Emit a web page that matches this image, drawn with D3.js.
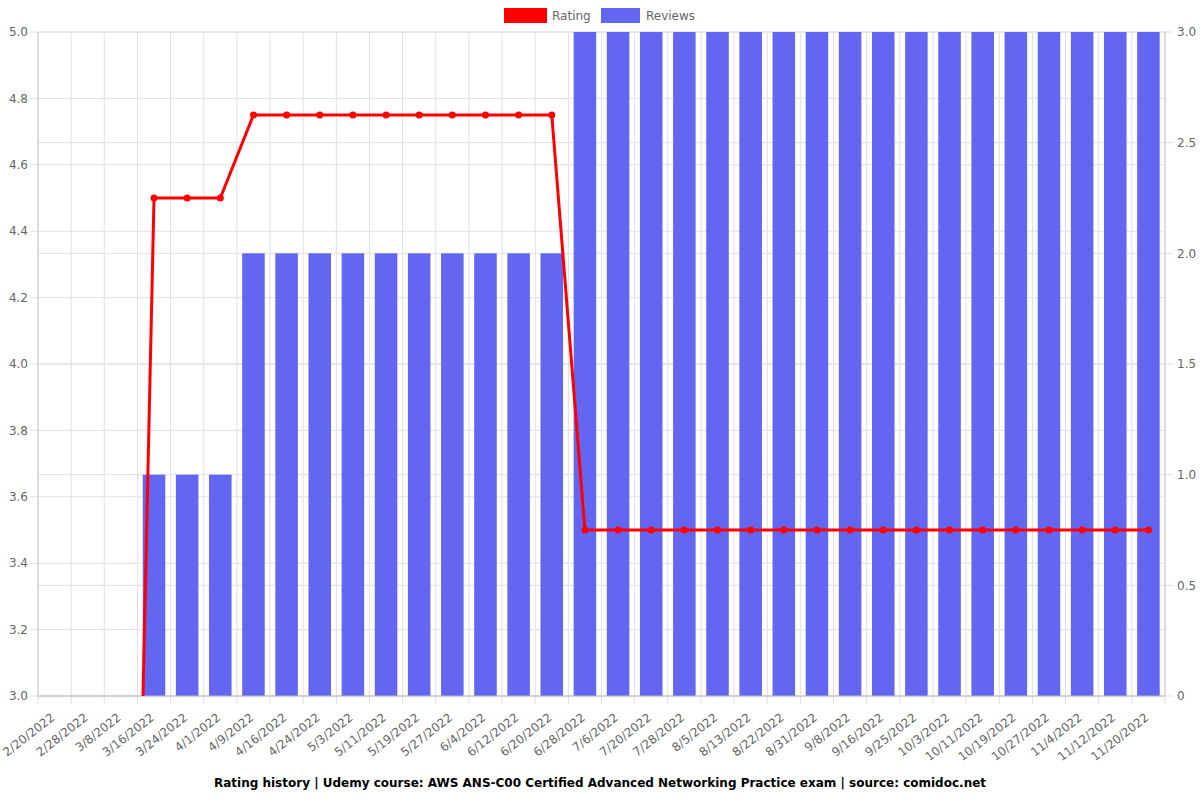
<!DOCTYPE html>
<html>
<head>
<meta charset="utf-8">
<script src="https://cdn.jsdelivr.net/npm/d3@7"></script>
<style>
  body { margin: 0; background: #fff; }
  text { font-family: "DejaVu Sans", sans-serif; }
</style>
</head>
<body>
<svg id="chart" width="1200" height="800"></svg>
<script>
// rating history chart, comidoc style

var dates = ["2/20/2022","2/28/2022","3/8/2022","3/16/2022","3/24/2022","4/1/2022","4/9/2022",
  "4/16/2022","4/24/2022","5/3/2022","5/11/2022","5/19/2022","5/27/2022","6/4/2022","6/12/2022",
  "6/20/2022","6/28/2022","7/6/2022","7/20/2022","7/28/2022","8/5/2022","8/13/2022","8/22/2022",
  "8/31/2022","9/8/2022","9/16/2022","9/25/2022","10/3/2022","10/11/2022","10/19/2022",
  "10/27/2022","11/4/2022","11/12/2022","11/20/2022"];

var rating = [0,0,0,4.5,4.5,4.5,4.75,4.75,4.75,4.75,4.75,4.75,4.75,4.75,4.75,4.75,
  3.5,3.5,3.5,3.5,3.5,3.5,3.5,3.5,3.5,3.5,3.5,3.5,3.5,3.5,3.5,3.5,3.5,3.5];

var reviews = [0,0,0,1,1,1,2,2,2,2,2,2,2,2,2,2,
  3,3,3,3,3,3,3,3,3,3,3,3,3,3,3,3,3,3];

var ratingTicks = [3.0,3.2,3.4,3.6,3.8,4.0,4.2,4.4,4.6,4.8,5.0];
var reviewTicks = [0,0.5,1.0,1.5,2.0,2.5,3.0];

var title = "Rating history | Udemy course: AWS ANS-C00 Certified Advanced Networking Practice exam | source: comidoc.net";

var svg = d3.select("#chart"),
    margin = {top: 32, right: 35, bottom: 104, left: 38},
    width = 1200 - margin.left - margin.right,
    height = 800 - margin.top - margin.bottom;

var red = "#ff0000", blue = "#6366f1", grid = "#e0e0e0", txt = "#666";

var x = d3.scaleBand().domain(dates).range([0, width]);
var y = d3.scaleLinear().domain([3, 5]).range([height, 0]);
var y2 = d3.scaleLinear().domain([0, 3]).range([height, 0]);

var g = svg.append("g")
    .attr("transform", "translate(" + margin.left + "," + margin.top + ")");

svg.append("defs").append("clipPath")
    .attr("id", "clip")
  .append("rect")
    .attr("width", width)
    .attr("height", height);

// grid lines
var bounds = dates.map(function(d) { return x(d); }).concat([width]);
g.append("g").selectAll("line.vg")
    .data(bounds)
  .enter().append("line")
    .attr("x1", function(d) { return d; })
    .attr("x2", function(d) { return d; })
    .attr("y1", 0)
    .attr("y2", height + 8)
    .attr("stroke", grid);

g.append("g").selectAll("line.hg")
    .data(ratingTicks)
  .enter().append("line")
    .attr("x1", -8)
    .attr("x2", width)
    .attr("y1", function(d) { return y(d); })
    .attr("y2", function(d) { return y(d); })
    .attr("stroke", grid);

g.append("g").selectAll("line.hg2")
    .data(reviewTicks)
  .enter().append("line")
    .attr("x1", 0)
    .attr("x2", width + 8)
    .attr("y1", function(d) { return y2(d); })
    .attr("y2", function(d) { return y2(d); })
    .attr("stroke", grid);

// bars
var bw = x.bandwidth() * 0.68;
g.append("g").selectAll("rect")
    .data(reviews)
  .enter().append("rect")
    .attr("x", function(d, i) { return x(dates[i]) + (x.bandwidth() - bw) / 2; })
    .attr("y", function(d) { return y2(d); })
    .attr("width", bw)
    .attr("height", function(d) { return height - y2(d); })
    .attr("fill", blue);

// axis lines
g.append("line").attr("x1", 0).attr("x2", width).attr("y1", height).attr("y2", height)
    .attr("stroke", "#bbb");
g.append("line").attr("x1", 0).attr("x2", 0).attr("y1", 0).attr("y2", height)
    .attr("stroke", "#ccc");
g.append("line").attr("x1", width).attr("x2", width).attr("y1", 0).attr("y2", height)
    .attr("stroke", "#ccc");

// rating line
var cx = function(i) { return x(dates[i]) + x.bandwidth() / 2; };
var line = d3.line()
    .x(function(d, i) { return cx(i); })
    .y(function(d) { return y(d); });

var lg = g.append("g").attr("clip-path", "url(#clip)");
lg.append("path")
    .datum(rating)
    .attr("d", line)
    .attr("fill", "none")
    .attr("stroke", red)
    .attr("stroke-width", 3);

lg.selectAll("circle")
    .data(rating)
  .enter().append("circle")
    .attr("cx", function(d, i) { return cx(i); })
    .attr("cy", function(d) { return y(d); })
    .attr("r", 3.5)
    .attr("fill", red);

// tick labels
g.append("g").selectAll("text")
    .data(ratingTicks)
  .enter().append("text")
    .attr("x", -10)
    .attr("y", function(d) { return y(d); })
    .attr("dy", "0.35em")
    .attr("text-anchor", "end")
    .attr("font-size", 12)
    .attr("fill", txt)
    .text(function(d) { return d.toFixed(1); });

g.append("g").selectAll("text")
    .data(reviewTicks)
  .enter().append("text")
    .attr("x", width + 12)
    .attr("y", function(d) { return y2(d); })
    .attr("dy", "0.35em")
    .attr("font-size", 12)
    .attr("fill", txt)
    .text(function(d) { return d === 0 ? "0" : d.toFixed(1); });

g.append("g").selectAll("text")
    .data(dates)
  .enter().append("text")
    .attr("transform", function(d) {
      return "translate(" + (x(d) + x.bandwidth() / 2 + 1) + "," + (height + 23) + ") rotate(-38)";
    })
    .attr("text-anchor", "end")
    .attr("font-size", 12)
    .attr("fill", txt)
    .text(function(d) { return d; });

// legend
var leg = svg.append("g");
leg.append("rect").attr("x", 504).attr("y", 8).attr("width", 43).attr("height", 15)
    .attr("fill", red);
leg.append("text").attr("x", 552).attr("y", 20).attr("font-size", 12).attr("fill", txt)
    .text("Rating");
leg.append("rect").attr("x", 601).attr("y", 8).attr("width", 39).attr("height", 15)
    .attr("fill", blue);
leg.append("text").attr("x", 646).attr("y", 20).attr("font-size", 12).attr("fill", txt)
    .text("Reviews");

// title
svg.append("text")
    .attr("x", 600)
    .attr("y", 787)
    .attr("text-anchor", "middle")
    .attr("font-size", 12)
    .attr("font-weight", "bold")
    .attr("fill", "#000")
    .text(title);
</script>
</body>
</html>
